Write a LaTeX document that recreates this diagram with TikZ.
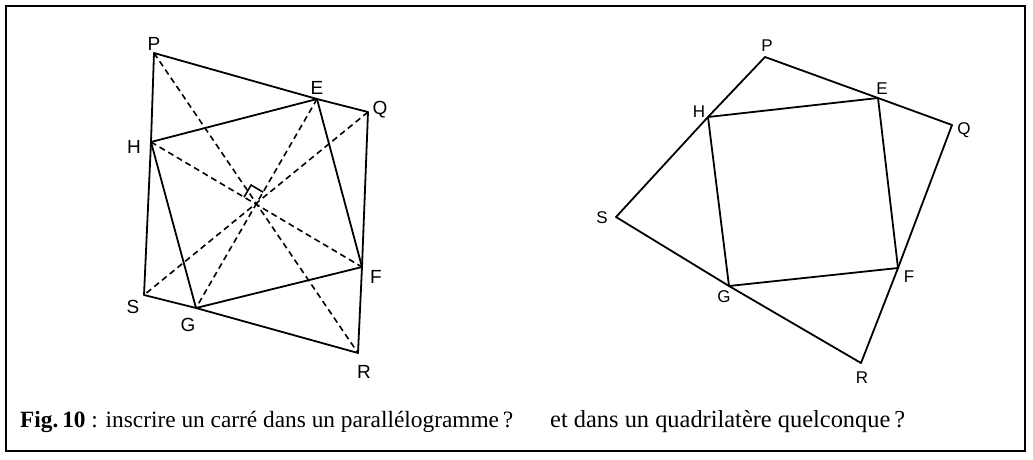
\documentclass[tikz,border=0pt]{standalone}
\usepackage{fontspec}
\newfontfamily\labfont{Liberation Sans}
\newfontfamily\capfont{Liberation Serif}
\usetikzlibrary{calc}
\tikzset{
  edge/.style={line width=1.8pt, line join=round},
  diag/.style={line width=1.6pt, dash pattern=on 6pt off 4pt},
  biglab/.style={font=\labfont\fontsize{19}{19}\selectfont, inner sep=0pt},
  smalllab/.style={font=\labfont\fontsize{17}{17}\selectfont, inner sep=0pt},
  frame/.style={line width=1.8pt}
}
\begin{document}
\begin{tikzpicture}[x=1pt,y=-1pt]
\useasboundingbox (0,0) rectangle (1033,459);
\draw[frame] (6,6) rectangle (1025,451);
% ---------- left figure ----------
\coordinate (lP) at (154,53);
\coordinate (lE) at (317,99);
\coordinate (lQ) at (368,112);
\coordinate (lH) at (151,142);
\coordinate (lF) at (362,267);
\coordinate (lS) at (144,295);
\coordinate (lG) at (196,308);
\coordinate (lR) at (358,353);
\draw[edge] (lP) -- (lE) -- (lQ) -- (lF) -- (lR) -- (lG) -- (lS) -- (lH) -- cycle;
\draw[edge] (lH) -- (lE) -- (lF) -- (lG) -- cycle;
\draw[diag] (lP) -- (lR);
\draw[diag] (lQ) -- (lS);
\draw[diag] (lH) -- (lF);
\draw[diag] (lE) -- (lG);
\coordinate (lO) at (intersection of lH--lF and lE--lG);
\coordinate (ra1) at ($(lO)!14pt!(lH)$);
\coordinate (ra2) at ($(lO)!14pt!(lE)$);
\draw[line width=1.6pt] (ra1) -- ($(ra1)+(ra2)-(lO)$) -- (ra2);
\node[biglab] (lPl) at (154,44) {P};
\node[biglab] (lEl) at (317,88) {E};
\node[biglab] (lQl) at (380,110) {Q};
\node[biglab] (lHl) at (134,147) {H};
\node[biglab] (lFl) at (376,277) {F};
\node[biglab] (lSl) at (133,307) {S};
\node[biglab] (lGl) at (188,325) {G};
\node[biglab] (lRl) at (364,372) {R};
% ---------- right figure ----------
\coordinate (rP) at (765,57);
\coordinate (rE) at (878,98);
\coordinate (rQ) at (952,125);
\coordinate (rH) at (708,117);
\coordinate (rS) at (616,217);
\coordinate (rF) at (898,268);
\coordinate (rG) at (729,286);
\coordinate (rR) at (861,363);
\draw[edge] (rP) -- (rE) -- (rQ) -- (rF) -- (rR) -- (rG) -- (rS) -- (rH) -- cycle;
\draw[edge] (rH) -- (rE) -- (rF) -- (rG) -- cycle;
\node[smalllab] (rPl) at (767,46) {P};
\node[smalllab] (rEl) at (882,89) {E};
\node[smalllab] (rQl) at (964,130) {Q};
\node[smalllab] (rHl) at (699,112) {H};
\node[smalllab] (rSl) at (602,218) {S};
\node[smalllab] (rFl) at (909,277) {F};
\node[smalllab] (rGl) at (724,297) {G};
\node[smalllab] (rRl) at (862,378) {R};
% ---------- caption ----------
\node[anchor=base west, inner sep=0pt] (cap1) at (20,427)
  {\resizebox{493pt}{!}{\capfont\textbf{Fig.\,10} : inscrire un carré dans un parallélogramme\,?}};
\node[anchor=base west, inner sep=0pt] (cap2) at (550,427)
  {\resizebox{355pt}{!}{\capfont et dans un quadrilatère quelconque\,?}};
\end{tikzpicture}
\end{document}
